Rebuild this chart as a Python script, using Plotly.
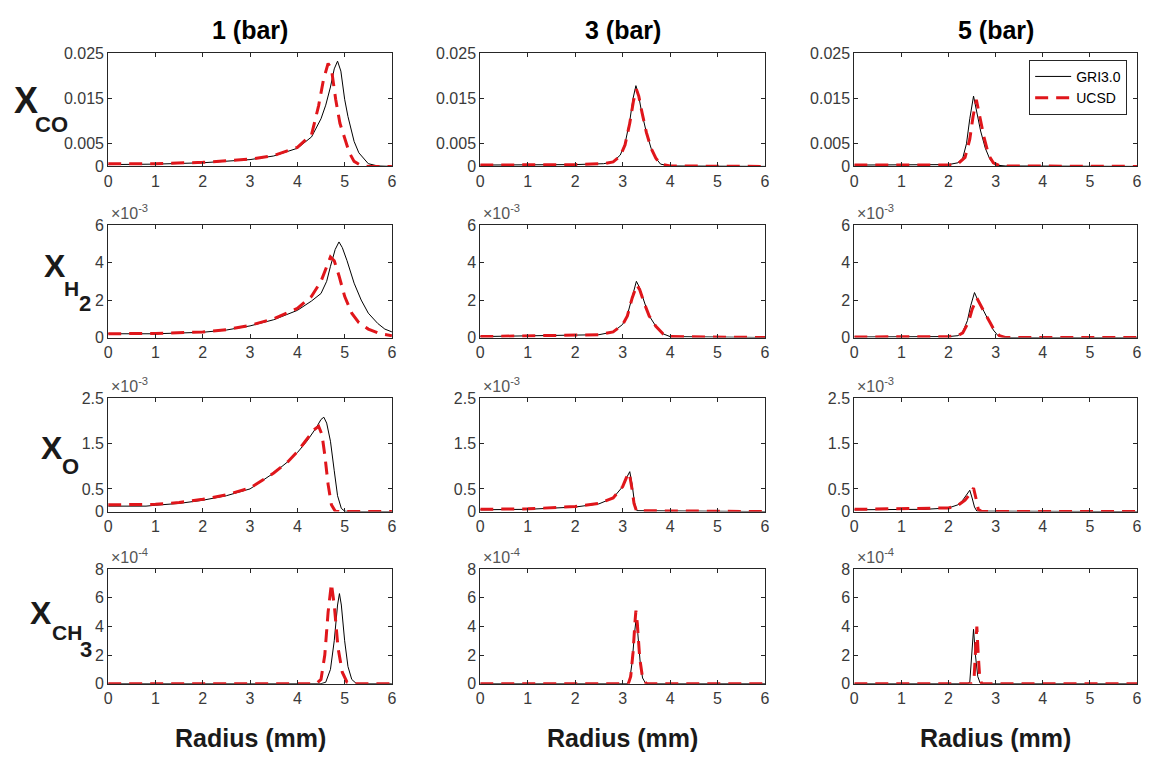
import plotly.graph_objects as go

# ---------------- data ----------------
pressures = ["1 (bar)", "3 (bar)", "5 (bar)"]
species_rows = ["CO", "H2", "O", "CH3"]

# Row 1: X_CO (absolute mole fraction)
co_1_gri_r = [0, 1, 2, 2.5, 3, 3.5, 4, 4.3, 4.5, 4.6, 4.7, 4.78, 4.85, 4.92, 5.0, 5.07, 5.2, 5.3, 5.5, 5.7, 6]
co_1_gri_y = [0.0004, 0.0005, 0.0008, 0.0011, 0.0015, 0.0023, 0.004, 0.0065, 0.0105, 0.0135, 0.0175, 0.0215, 0.0232, 0.021, 0.0148, 0.011, 0.0055, 0.003, 0.0006, 0.0001, 0]
co_1_ucsd_r = [0, 1, 2, 2.5, 3, 3.5, 4, 4.3, 4.45, 4.55, 4.65, 4.72, 4.81, 4.9, 5.0, 5.1, 5.2, 5.35, 5.5, 6]
co_1_ucsd_y = [0.0006, 0.0006, 0.0009, 0.0012, 0.0016, 0.0024, 0.0042, 0.007, 0.0134, 0.019, 0.0227, 0.0215, 0.0148, 0.0095, 0.0062, 0.003, 0.0011, 0.0002, 0, 0]

co_3_gri_r = [0, 2.0, 2.6, 2.8, 2.95, 3.05, 3.15, 3.22, 3.28, 3.33, 3.4, 3.5, 3.6, 3.7, 3.8, 4.0, 6]
co_3_gri_y = [0.0003, 0.0004, 0.0006, 0.001, 0.0025, 0.005, 0.01, 0.015, 0.0178, 0.016, 0.012, 0.0075, 0.004, 0.0018, 0.0005, 0.0001, 0]
co_3_ucsd_r = [0, 2.0, 2.6, 2.8, 2.95, 3.05, 3.15, 3.23, 3.29, 3.34, 3.41, 3.5, 3.6, 3.7, 3.8, 4.0, 6]
co_3_ucsd_y = [0.0003, 0.0004, 0.0006, 0.001, 0.0023, 0.0047, 0.0095, 0.0145, 0.0170, 0.0155, 0.0118, 0.0075, 0.004, 0.0018, 0.0005, 0.0001, 0]

co_5_gri_r = [0, 1.5, 2.0, 2.2, 2.3, 2.38, 2.45, 2.53, 2.6, 2.68, 2.78, 2.88, 3.0, 3.2, 6]
co_5_gri_y = [0.0003, 0.0003, 0.0004, 0.0008, 0.0018, 0.005, 0.0105, 0.0155, 0.012, 0.0078, 0.004, 0.0015, 0.0003, 0.0001, 0]
co_5_ucsd_r = [0, 2.0, 2.2, 2.35, 2.45, 2.52, 2.59, 2.66, 2.75, 2.85, 2.95, 3.1, 6]
co_5_ucsd_y = [0.0003, 0.0003, 0.0006, 0.002, 0.006, 0.011, 0.0147, 0.011, 0.0065, 0.0025, 0.0008, 0.0001, 0]

# Row 2: X_H2 (units of 1e-3)
h2_1_gri_r = [0, 1, 2, 2.5, 3, 3.5, 4, 4.3, 4.5, 4.62, 4.7, 4.8, 4.88, 4.95, 5.05, 5.2, 5.35, 5.5, 5.7, 5.85, 6]
h2_1_gri_y = [0.2, 0.2, 0.28, 0.4, 0.62, 0.95, 1.45, 1.95, 2.35, 3.0, 3.8, 4.7, 5.1, 4.8, 4.1, 2.9, 2.0, 1.3, 0.75, 0.45, 0.3]
h2_1_ucsd_r = [0, 1, 2, 2.5, 3, 3.5, 4, 4.3, 4.5, 4.62, 4.7, 4.78, 4.88, 5.0, 5.15, 5.3, 5.5, 5.75, 6]
h2_1_ucsd_y = [0.2, 0.22, 0.3, 0.42, 0.65, 1.0, 1.55, 2.2, 3.0, 3.8, 4.3, 4.1, 3.3, 2.2, 1.3, 0.8, 0.45, 0.2, 0.1]

h2_3_gri_r = [0, 2.0, 2.5, 2.8, 3.0, 3.1, 3.2, 3.29, 3.35, 3.45, 3.55, 3.7, 3.85, 4.0, 6]
h2_3_gri_y = [0.05, 0.1, 0.15, 0.3, 0.7, 1.2, 2.2, 3.0, 2.7, 1.9, 1.2, 0.6, 0.2, 0.05, 0]
h2_3_ucsd_r = [0, 2.0, 2.5, 2.8, 3.0, 3.1, 3.2, 3.3, 3.36, 3.46, 3.56, 3.7, 3.85, 4.0, 6]
h2_3_ucsd_y = [0.05, 0.1, 0.15, 0.3, 0.68, 1.15, 2.1, 2.8, 2.55, 1.8, 1.15, 0.6, 0.2, 0.05, 0]

h2_5_gri_r = [0, 2.0, 2.2, 2.3, 2.4, 2.47, 2.55, 2.62, 2.75, 2.85, 2.95, 3.05, 3.2, 6]
h2_5_gri_y = [0.03, 0.05, 0.1, 0.3, 0.9, 1.7, 2.4, 2.0, 1.4, 0.9, 0.4, 0.1, 0, 0]
h2_5_ucsd_r = [0, 2.0, 2.2, 2.3, 2.42, 2.5, 2.6, 2.67, 2.78, 2.88, 2.98, 3.08, 3.2, 6]
h2_5_ucsd_y = [0.03, 0.05, 0.1, 0.25, 0.8, 1.5, 2.1, 1.8, 1.25, 0.8, 0.35, 0.1, 0, 0]

# Row 3: X_O (units of 1e-3)
o_1_gri_r = [0, 0.8, 1.0, 1.5, 2.0, 2.5, 3.0, 3.5, 3.8, 4.0, 4.2, 4.4, 4.5, 4.56, 4.62, 4.7, 4.78, 4.85, 4.93, 5.0, 5.1, 6]
o_1_gri_y = [0.12, 0.12, 0.14, 0.18, 0.25, 0.35, 0.5, 0.85, 1.1, 1.3, 1.55, 1.85, 2.03, 2.08, 1.95, 1.55, 0.9, 0.35, 0.07, 0.01, 0, 0]
o_1_ucsd_r = [0, 1.0, 1.5, 2.0, 2.5, 3.0, 3.5, 3.8, 4.0, 4.2, 4.35, 4.45, 4.52, 4.58, 4.65, 4.72, 4.8, 4.9, 6]
o_1_ucsd_y = [0.15, 0.16, 0.2, 0.27, 0.37, 0.52, 0.85, 1.1, 1.32, 1.6, 1.8, 1.88, 1.7, 1.25, 0.6, 0.15, 0.01, 0, 0]

o_3_gri_r = [0, 1, 2, 2.5, 2.8, 3.0, 3.1, 3.15, 3.2, 3.25, 3.3, 6]
o_3_gri_y = [0.04, 0.05, 0.1, 0.17, 0.3, 0.55, 0.78, 0.88, 0.6, 0.2, 0.02, 0]
o_3_ucsd_r = [0, 1, 2, 2.5, 2.8, 3.0, 3.08, 3.14, 3.19, 3.24, 3.29, 6]
o_3_ucsd_y = [0.05, 0.06, 0.11, 0.18, 0.3, 0.55, 0.75, 0.85, 0.55, 0.18, 0.02, 0]

o_5_gri_r = [0, 1.5, 2.0, 2.2, 2.3, 2.38, 2.45, 2.5, 2.55, 2.6, 6]
o_5_gri_y = [0.04, 0.05, 0.08, 0.15, 0.25, 0.38, 0.47, 0.3, 0.1, 0.01, 0]
o_5_ucsd_r = [0, 2.0, 2.2, 2.35, 2.45, 2.53, 2.58, 2.63, 2.7, 6]
o_5_ucsd_y = [0.05, 0.08, 0.14, 0.25, 0.38, 0.52, 0.3, 0.05, 0, 0]

# Row 4: X_CH3 (units of 1e-4)
ch3_1_gri_r = [0, 4.5, 4.6, 4.7, 4.78, 4.85, 4.89, 4.93, 5.0, 5.07, 5.15, 5.25, 6]
ch3_1_gri_y = [0, 0, 0.1, 1.0, 3.0, 5.5, 6.3, 5.5, 3.0, 1.2, 0.3, 0, 0]
ch3_1_ucsd_r = [0, 4.4, 4.5, 4.58, 4.65, 4.72, 4.78, 4.86, 4.95, 5.05, 5.15, 6]
ch3_1_ucsd_y = [0, 0, 0.3, 2.0, 5.0, 7.0, 5.5, 2.5, 0.8, 0.1, 0, 0]

ch3_3_gri_r = [0, 3.1, 3.15, 3.2, 3.25, 3.28, 3.32, 3.37, 3.42, 3.48, 3.55, 6]
ch3_3_gri_y = [0, 0, 0.3, 1.5, 3.5, 4.4, 3.5, 1.5, 0.4, 0.05, 0, 0]
ch3_3_ucsd_r = [0, 3.12, 3.17, 3.22, 3.26, 3.28, 3.31, 3.36, 3.42, 3.5, 6]
ch3_3_ucsd_y = [0, 0, 0.5, 2.2, 4.3, 5.1, 4.2, 1.8, 0.4, 0, 0]

ch3_5_gri_r = [0, 2.4, 2.45, 2.49, 2.53, 2.57, 2.62, 2.67, 2.75, 6]
ch3_5_gri_y = [0, 0, 0.1, 1.8, 3.8, 2.0, 0.5, 0.05, 0, 0]
ch3_5_ucsd_r = [0, 2.5, 2.54, 2.57, 2.6, 2.63, 2.66, 2.7, 6]
ch3_5_ucsd_y = [0, 0, 0.3, 2.0, 4.0, 2.0, 0.5, 0, 0]

x_ticks = [0, 1, 2, 3, 4, 5, 6]
y_ticks = {
    "CO": [0, 0.005, 0.015, 0.025],
    "H2": [0, 2, 4, 6],
    "O": [0, 0.5, 1.5, 2.5],
    "CH3": [0, 2, 4, 6, 8],
}
y_ticktext = {
    "CO": ["0", "0.005", "0.015", "0.025"],
    "H2": ["0", "2", "4", "6"],
    "O": ["0", "0.5", "1.5", "2.5"],
    "CH3": ["0", "2", "4", "6", "8"],
}
y_max = {"CO": 0.025, "H2": 6, "O": 2.5, "CH3": 8}
exponents = {"CO": None, "H2": "-3", "O": "-3", "CH3": "-4"}

series = {
    ("CO", 0): (co_1_gri_r, co_1_gri_y, co_1_ucsd_r, co_1_ucsd_y),
    ("CO", 1): (co_3_gri_r, co_3_gri_y, co_3_ucsd_r, co_3_ucsd_y),
    ("CO", 2): (co_5_gri_r, co_5_gri_y, co_5_ucsd_r, co_5_ucsd_y),
    ("H2", 0): (h2_1_gri_r, h2_1_gri_y, h2_1_ucsd_r, h2_1_ucsd_y),
    ("H2", 1): (h2_3_gri_r, h2_3_gri_y, h2_3_ucsd_r, h2_3_ucsd_y),
    ("H2", 2): (h2_5_gri_r, h2_5_gri_y, h2_5_ucsd_r, h2_5_ucsd_y),
    ("O", 0): (o_1_gri_r, o_1_gri_y, o_1_ucsd_r, o_1_ucsd_y),
    ("O", 1): (o_3_gri_r, o_3_gri_y, o_3_ucsd_r, o_3_ucsd_y),
    ("O", 2): (o_5_gri_r, o_5_gri_y, o_5_ucsd_r, o_5_ucsd_y),
    ("CH3", 0): (ch3_1_gri_r, ch3_1_gri_y, ch3_1_ucsd_r, ch3_1_ucsd_y),
    ("CH3", 1): (ch3_3_gri_r, ch3_3_gri_y, ch3_3_ucsd_r, ch3_3_ucsd_y),
    ("CH3", 2): (ch3_5_gri_r, ch3_5_gri_y, ch3_5_ucsd_r, ch3_5_ucsd_y),
}

# ---------------- layout ----------------
W, H = 1152, 767
col_px = [(105, 391), (480, 767), (857, 1142)]
row_px = [(46, 162), (222, 337), (399, 515), (574, 691)]
FONT = "Liberation Sans, Arial, sans-serif"
TICK_COLOR = "#3a3a3a"
AX_COLOR = "#262626"

fig = go.Figure()
layout = dict(
    width=W, height=H, margin=dict(l=0, r=0, t=0, b=0),
    paper_bgcolor="white", plot_bgcolor="white",
    font=dict(family=FONT, color=TICK_COLOR, size=16),
    showlegend=True,
)
annotations = []

idx = 0
for ri, sp in enumerate(species_rows):
    for ci in range(3):
        idx += 1
        xa = "x" if idx == 1 else f"x{idx}"
        ya = "y" if idx == 1 else f"y{idx}"
        xkey = "xaxis" if idx == 1 else f"xaxis{idx}"
        ykey = "yaxis" if idx == 1 else f"yaxis{idx}"
        x0, x1 = col_px[ci]
        top, bot = row_px[ri]
        layout[xkey] = dict(
            domain=[x0 / W, x1 / W], anchor=ya, range=[0, 6],
            tickmode="array", tickvals=x_ticks, ticktext=[str(t) for t in x_ticks],
            showline=True, linecolor=AX_COLOR, linewidth=1, mirror="allticks",
            ticks="inside", ticklen=4, tickcolor=AX_COLOR,
            showgrid=False, zeroline=False, fixedrange=True,
            tickfont=dict(size=16, color=TICK_COLOR, family=FONT),
        )
        layout[ykey] = dict(
            domain=[1 - bot / H, 1 - top / H], anchor=xa, range=[0, y_max[sp]],
            tickmode="array", tickvals=y_ticks[sp], ticktext=y_ticktext[sp],
            showline=True, linecolor=AX_COLOR, linewidth=1, mirror="allticks",
            ticks="inside", ticklen=4, tickcolor=AX_COLOR,
            showgrid=False, zeroline=False, fixedrange=True,
            tickfont=dict(size=16, color=TICK_COLOR, family=FONT),
        )
        gr, gy, ur, uy = series[(sp, ci)]
        fig.add_trace(go.Scatter(
            x=gr, y=gy, xaxis=xa, yaxis=ya, mode="lines", name="GRI3.0",
            line=dict(color="black", width=1), showlegend=(idx == 3),
            legendgroup="gri", cliponaxis=True,
        ))
        fig.add_trace(go.Scatter(
            x=ur, y=uy, xaxis=xa, yaxis=ya, mode="lines", name="UCSD",
            line=dict(color="#e0161b", width=3, dash="13px,8px"), showlegend=(idx == 3),
            legendgroup="ucsd", cliponaxis=True,
        ))
        if exponents[sp]:
            annotations.append(dict(
                xref="paper", yref="paper", x=(x0 + 1) / W, y=1 - (top - 1) / H,
                xanchor="left", yanchor="bottom", showarrow=False,
                text=f"\u00d710<sup>{exponents[sp]}</sup>",
                font=dict(size=16, color="#555555", family=FONT),
            ))

# column titles and x-axis titles
for ci, title in enumerate(pressures):
    x0, x1 = col_px[ci]
    cx = (x0 + x1) / 2 / W
    annotations.append(dict(
        xref="paper", yref="paper", x=cx, y=1 - 22 / H, xanchor="center", yanchor="middle",
        showarrow=False, text=f"<b>{title}</b>",
        font=dict(size=25, color="black", family=FONT),
    ))
    annotations.append(dict(
        xref="paper", yref="paper", x=cx, y=1 - 747 / H, xanchor="center", yanchor="middle",
        showarrow=False, text="<b>Radius (mm)</b>",
        font=dict(size=25, color="#1a1a1a", family=FONT),
    ))

# y labels built from pieces: (text, x_px_center, y_px_center, size)
ylabel_parts = [
    ("X", 22, 95, 36), ("CO", 48, 119, 22),
    ("X", 51, 264, 32), ("H", 68, 287, 21), ("2", 82, 302, 22),
    ("X", 48, 450, 32), ("O", 67, 469, 22),
    ("X", 37, 619, 32), ("CH", 63, 639, 21), ("3", 83, 656, 22),
]
for txt, px, py, sz in ylabel_parts:
    annotations.append(dict(
        xref="paper", yref="paper", x=px / W, y=1 - py / H, xanchor="center", yanchor="middle",
        showarrow=False, text=f"<b>{txt}</b>",
        font=dict(size=sz, color="#1a1a1a", family=FONT),
    ))

layout["annotations"] = annotations
layout["legend"] = dict(
    x=1132 / W, y=1 - 53 / H, xanchor="right", yanchor="top",
    bgcolor="white", bordercolor=AX_COLOR, borderwidth=1,
    font=dict(size=14, color="black", family=FONT),
    itemwidth=36, tracegroupgap=0,
)
fig.update_layout(**layout)
fig.write_html("out.html")
